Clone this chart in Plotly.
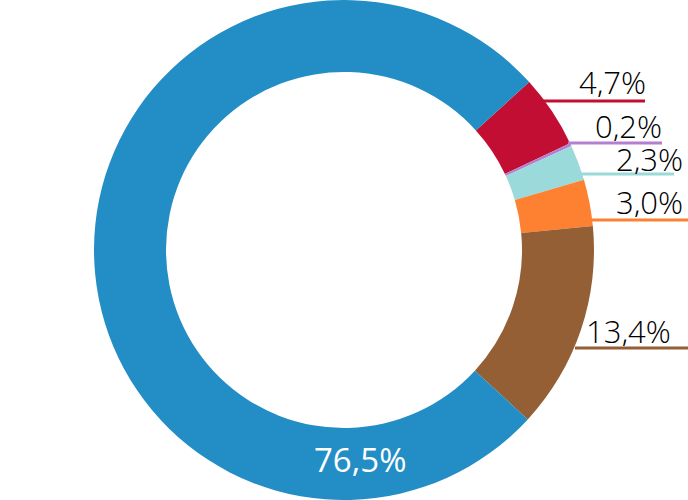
import plotly.graph_objects as go

# Data
labels = ["A", "B", "C", "D", "E", "F"]
values = [4.7, 0.2, 2.3, 3.0, 13.4, 76.5]
label_texts = ["4,7%", "0,2%", "2,3%", "3,0%", "13,4%", "76,5%"]
colors = ["#C20E32", "#B57FCF", "#9ADADA", "#FD8130", "#955F35", "#228EC5"]

W, H = 688, 500
FONT = "Open Sans"

fig = go.Figure(go.Pie(
    labels=labels,
    values=values,
    sort=False,
    direction="clockwise",
    rotation=47.8,
    hole=0.712,
    marker=dict(colors=colors, line=dict(width=0)),
    textinfo="none",
    hoverinfo="none",
    showlegend=False,
    domain=dict(x=[0, 1], y=[0, 1]),
))

# Outside label layout (pixel positions): text right edge, baseline, leader line start/end, line y
outside = [
    # (text_right, baseline, line_x0, line_x1, line_y)
    (648, 93, 543, 645, 101),
    (664, 137, 568, 662, 143),
    (685, 170, 580, 674, 174),
    (685, 213, 592, 688, 220),
    (673, 342, 575, 688, 348),
]

shapes = []
annotations = []
for i, (xr, base, x0, x1, ly) in enumerate(outside):
    shapes.append(dict(
        type="line", xref="paper", yref="paper",
        x0=x0 / W, x1=x1 / W, y0=1 - ly / H, y1=1 - ly / H,
        line=dict(color=colors[i], width=3),
    ))
    annotations.append(dict(
        text=label_texts[i], xref="paper", yref="paper",
        x=xr / W, y=1 - (base - 11) / H, xanchor="right", yanchor="middle",
        height=30, valign="middle",
        showarrow=False, font=dict(family=FONT, size=31, color="#000000", weight=300),
    ))

annotations.append(dict(
    text=label_texts[5], xref="paper", yref="paper",
    x=360 / W, y=1 - 459 / H, xanchor="center", yanchor="middle",
    showarrow=False, font=dict(family=FONT, size=33, color="white", weight=400),
))

fig.update_layout(
    width=W, height=H,
    margin=dict(l=0, r=0, t=0, b=0),
    paper_bgcolor="white", plot_bgcolor="white",
    shapes=shapes, annotations=annotations,
)

fig.write_html("out.html", config={"displayModeBar": False},
               post_script="document.body.style.margin='0';document.body.style.overflow='hidden';")
